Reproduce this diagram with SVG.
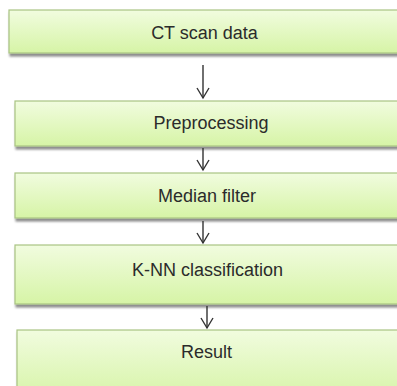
<svg xmlns="http://www.w3.org/2000/svg" width="397" height="386" viewBox="0 0 397 386">
  <defs>
    <linearGradient id="boxFill" x1="0" y1="0" x2="0" y2="1">
      <stop offset="0" stop-color="#f1fcdf"/>
      <stop offset="1" stop-color="#d6f4a6"/>
    </linearGradient>
    <filter id="shadow" x="-5%" y="-10%" width="115%" height="140%">
      <feGaussianBlur in="SourceAlpha" stdDeviation="0.8"/>
      <feOffset dx="1" dy="2.5" result="off"/>
      <feComponentTransfer><feFuncA type="linear" slope="0.45"/></feComponentTransfer>
      <feMerge><feMergeNode/><feMergeNode in="SourceGraphic"/></feMerge>
    </filter>
    <!-- open V head, drawn along +x so orient="auto" points it down the line -->
    <marker id="openArrow" markerUnits="userSpaceOnUse" markerWidth="14" markerHeight="16" refX="12" refY="8" orient="auto" viewBox="0 0 14 16">
      <path d="M2,2 L12,8 L2,14" fill="none" stroke="#333" stroke-width="1.4"/>
    </marker>
  </defs>
  <style>
    .box { fill: url(#boxFill); stroke: #a9c383; stroke-width: 1.2; filter: url(#shadow); }
    .label { font-family: "Liberation Sans", Arial, sans-serif; font-size: 18px; fill: #2b2b2b; text-anchor: middle; }
    .conn { stroke: #333; stroke-width: 1.4; fill: none; marker-end: url(#openArrow); }
  </style>
  <rect width="397" height="386" fill="#ffffff"/>

  <g id="ct-scan-data">
    <rect class="box" x="9" y="10" width="400" height="43"/>
    <text class="label" x="204.5" y="39">CT scan data</text>
  </g>

  <g id="preprocessing">
    <rect class="box" x="15" y="101" width="400" height="45"/>
    <text class="label" x="211" y="129">Preprocessing</text>
  </g>

  <g id="median-filter">
    <rect class="box" x="15" y="173" width="400" height="45"/>
    <text class="label" x="207" y="201.5">Median filter</text>
  </g>

  <g id="knn-classification">
    <rect class="box" x="15" y="245" width="400" height="59"/>
    <text class="label" x="207.5" y="276">K-NN classification</text>
  </g>

  <g id="result">
    <rect class="box" x="17" y="330" width="400" height="70"/>
    <text class="label" x="206.5" y="358">Result</text>
  </g>

  <g id="connectors">
    <line class="conn" x1="203" y1="65" x2="203" y2="98"/>
    <line class="conn" x1="203" y1="148" x2="203" y2="170"/>
    <line class="conn" x1="203" y1="221" x2="203" y2="243"/>
    <line class="conn" x1="207" y1="306" x2="207" y2="328"/>
  </g>
</svg>
